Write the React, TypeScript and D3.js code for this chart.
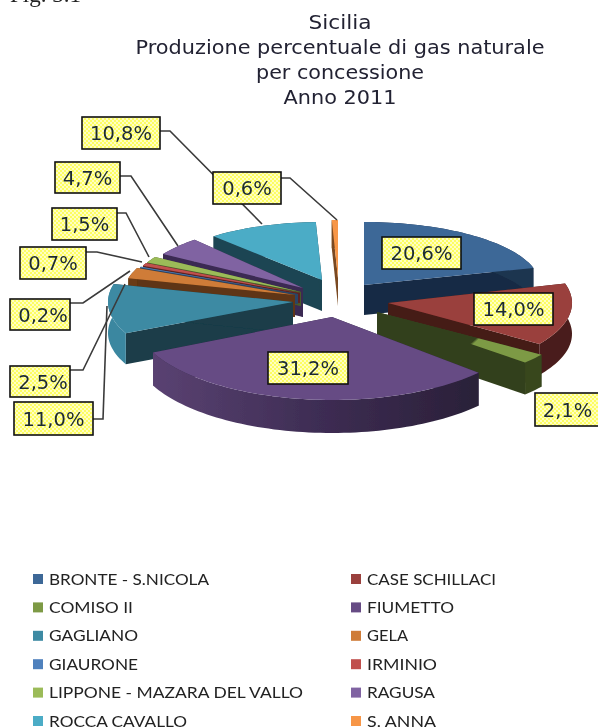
import React from "react";
import * as d3 from "d3";

const legendLabels = ["BRONTE - S.NICOLA","CASE SCHILLACI","COMISO II","FIUMETTO","GAGLIANO","GELA","GIAURONE","IRMINIO","LIPPONE - MAZARA DEL VALLO","RAGUSA","ROCCA CAVALLO","S. ANNA"];
const legendWidths = [160,129,84,87,89,41,89,70,254,68,138,69];
const values = [20.6,14.0,2.1,31.2,11.0,2.5,0.2,0.7,1.5,4.7,10.8,0.6];
const topColors = ["#3e6797","#9a3f3c","url(#comisoTop)","#664c84","#3d8aa3","#cf7c38","#4f81bd","#c0504d","#9bbb59","#8064a2","#4bacc6","#f79646"];
const swatchColors = ["#3e6797","#9a3f3c","#7d9a45","#664c84","#3d8aa3","#cf7c38","#4f81bd","#c0504d","#9bbb59","#8064a2","#4bacc6","#f79646"];
const edgeColors = ["#182c44","#451c18","#33401c","#2e2240","#1a3c48","#5f3513","#2a4466","#5c2422","#4a5a2a","#3b2a52","#1f4552","#7a4a20"];
const wallColors = ["#1d3550","#4a1f1a","#38461f","url(#fiumWall)","#3a87a0","#6a3b16","#2a4466","#5c2422","#4a5a2a","#3b2a52","#1f4552","#7a4a20"];
const paintOrder = [10,11,0,9,8,7,6,5,4,1,2,3];
const title = ["Sicilia","Produzione percentuale di gas naturale","per concessione","Anno 2011"];
const titleWidths = [63,409,168,113];

// slice placement: apex x, apex y, radius x, radius y, depth
const placement: number[][] = [
  [364,285,176,63,30],[388,303,184,72,31],[377,312,200,75,32],[332,317,198,83,33],
  [293,302,185,73,31],[295,295,172,68,22],[298,294,172,67,10],[300,293,172,67,10],
  [301,292,172,66,14],[303,288,165,64,29],[322,280,165,58,31],[338,278,165,58,28],
];
const labelBoxes: number[][] = [
  [382,237,461,269],[474,293,553,325],[535,393,600,426],[268,352,348,384],[14,402,93,435],[10,366,70,397],
  [10,299,70,330],[20,247,86,279],[52,208,117,240],[55,162,120,193],[82,117,160,149],[213,172,281,204],
];
const leaders: ([number,number][] | null)[] = [
  null,null,null,null,
  [[93,419],[103,419],[107,306]],[[70,370],[83,370],[125,284]],[[70,303],[83,303],[130,271]],
  [[86,252],[97,252],[142,262]],[[117,213],[126,213],[149,257]],[[120,176],[131,176],[178,246]],
  [[160,131],[170,131],[262,224]],[[281,178],[290,178],[337,220]],
];

const pieGen = d3.pie<number>().sort(null).value(d => d);
const arcs = pieGen(values);
const lineGen = d3.line<[number,number]>();

function pt(i: number, a: number, drop = 0): [number,number] {
  const [x,y,rx,ry] = placement[i];
  return [x + rx*Math.sin(a), y - ry*Math.cos(a) + drop];
}
function rim(i: number, a0: number, a1: number, drop = 0): [number,number][] {
  const n = Math.max(2, Math.ceil((a1-a0)/0.03));
  return d3.range(n+1).map(k => pt(i, a0 + (a1-a0)*k/n, drop));
}

function Slice({ i }: { i: number }) {
  const { startAngle: a0, endAngle: a1 } = arcs[i];
  const [x,y,,,h] = placement[i];
  const top = lineGen([[x,y],...rim(i,a0,a1)])+"Z";
  const outer = lineGen([...rim(i,a0,a1),...rim(i,a0,a1,h).reverse()])+"Z";
  const face = (a: number) => { const p = pt(i,a), q = pt(i,a,h); return lineGen([[x,y],p,q,[x,y+h]])+"Z"; };
  return <g>
    <path d={face(a0)} fill={edgeColors[i]}/>
    <path d={face(a1)} fill={edgeColors[i]}/>
    <path d={outer} fill={wallColors[i]}/>
    <path d={top} fill={topColors[i]}/>
  </g>;
}

export default function App() {
  const rows = d3.range(6);
  const rowY = d3.scaleLinear().domain([0,5]).range([579,721]);
  return <svg width={598} height={728} style={{position:"absolute",left:0,top:0,display:"block"}}>
    <defs>
      <pattern id="dots" width={4} height={4} patternUnits="userSpaceOnUse">
        <rect width={4} height={4} fill="#fdfd62"/>
        <circle cx={1} cy={1} r={0.9} fill="#fffff0"/>
        <circle cx={3} cy={3} r={0.9} fill="#fffff0"/>
      </pattern>
      <linearGradient id="fiumWall" x1="0" x2="1" y1="0" y2="0">
        <stop offset="0" stopColor="#5a4272"/>
        <stop offset="0.5" stopColor="#3e2d54"/>
        <stop offset="1" stopColor="#2a2038"/>
      </linearGradient>
      <linearGradient id="comisoTop" x1="0" x2="1" y1="0" y2="0.35">
        <stop offset="0.7" stopColor="#33401c"/>
        <stop offset="0.72" stopColor="#7d9a45"/>
      </linearGradient>
      <filter id="soft" x="-5%" y="-5%" width="110%" height="110%"><feGaussianBlur stdDeviation="0.55"/></filter>
    </defs>
    <rect width={598} height={728} fill="#fff"/>
    <g filter="url(#soft)">
      <text x={10} y={2} fontFamily="Liberation Serif" fontSize={23} fill="#222">Fig. 3.1</text>
      {title.map((t,i) => <text key={t} x={340} y={[29,54,79,104][i]} textAnchor="middle" fontFamily="DejaVu Sans" fontSize={19} textLength={titleWidths[i]} lengthAdjust="spacingAndGlyphs" fill="#223">{t}</text>)}
      {paintOrder.map(i => <Slice key={i} i={i}/>)}
      {leaders.map((l,i) => l && <path key={i} d={lineGen(l)!} fill="none" stroke="#3a3a3a" strokeWidth={1.6}/>)}
      {labelBoxes.map((b,i) => <g key={i}>
        <rect x={b[0]} y={b[1]} width={b[2]-b[0]} height={b[3]-b[1]} fill="url(#dots)" stroke="#111" strokeWidth={1.6}/>
        <text x={(b[0]+b[2])/2+(i===5||i===6?3:0)} y={(b[1]+b[3])/2+7} textAnchor="middle" fontFamily="DejaVu Sans" fontSize={19.5} fill="#1c2a33">{values[i].toFixed(1).replace(".",",")}%</text>
      </g>)}
      {rows.flatMap(r => [0,1].map(c => {
        const i = r*2+c;
        const y = rowY(r);
        const sx = c===0 ? 33 : 351;
        return <g key={i}>
          <rect x={sx} y={y-5} width={10} height={10} fill={swatchColors[i]}/>
          <text x={sx+16} y={y+5.5} fontFamily="Lato" fontSize={15.5} textLength={legendWidths[i]} lengthAdjust="spacingAndGlyphs" fill="#222">{legendLabels[i]}</text>
        </g>;
      }))}
    </g>
  </svg>;
}
